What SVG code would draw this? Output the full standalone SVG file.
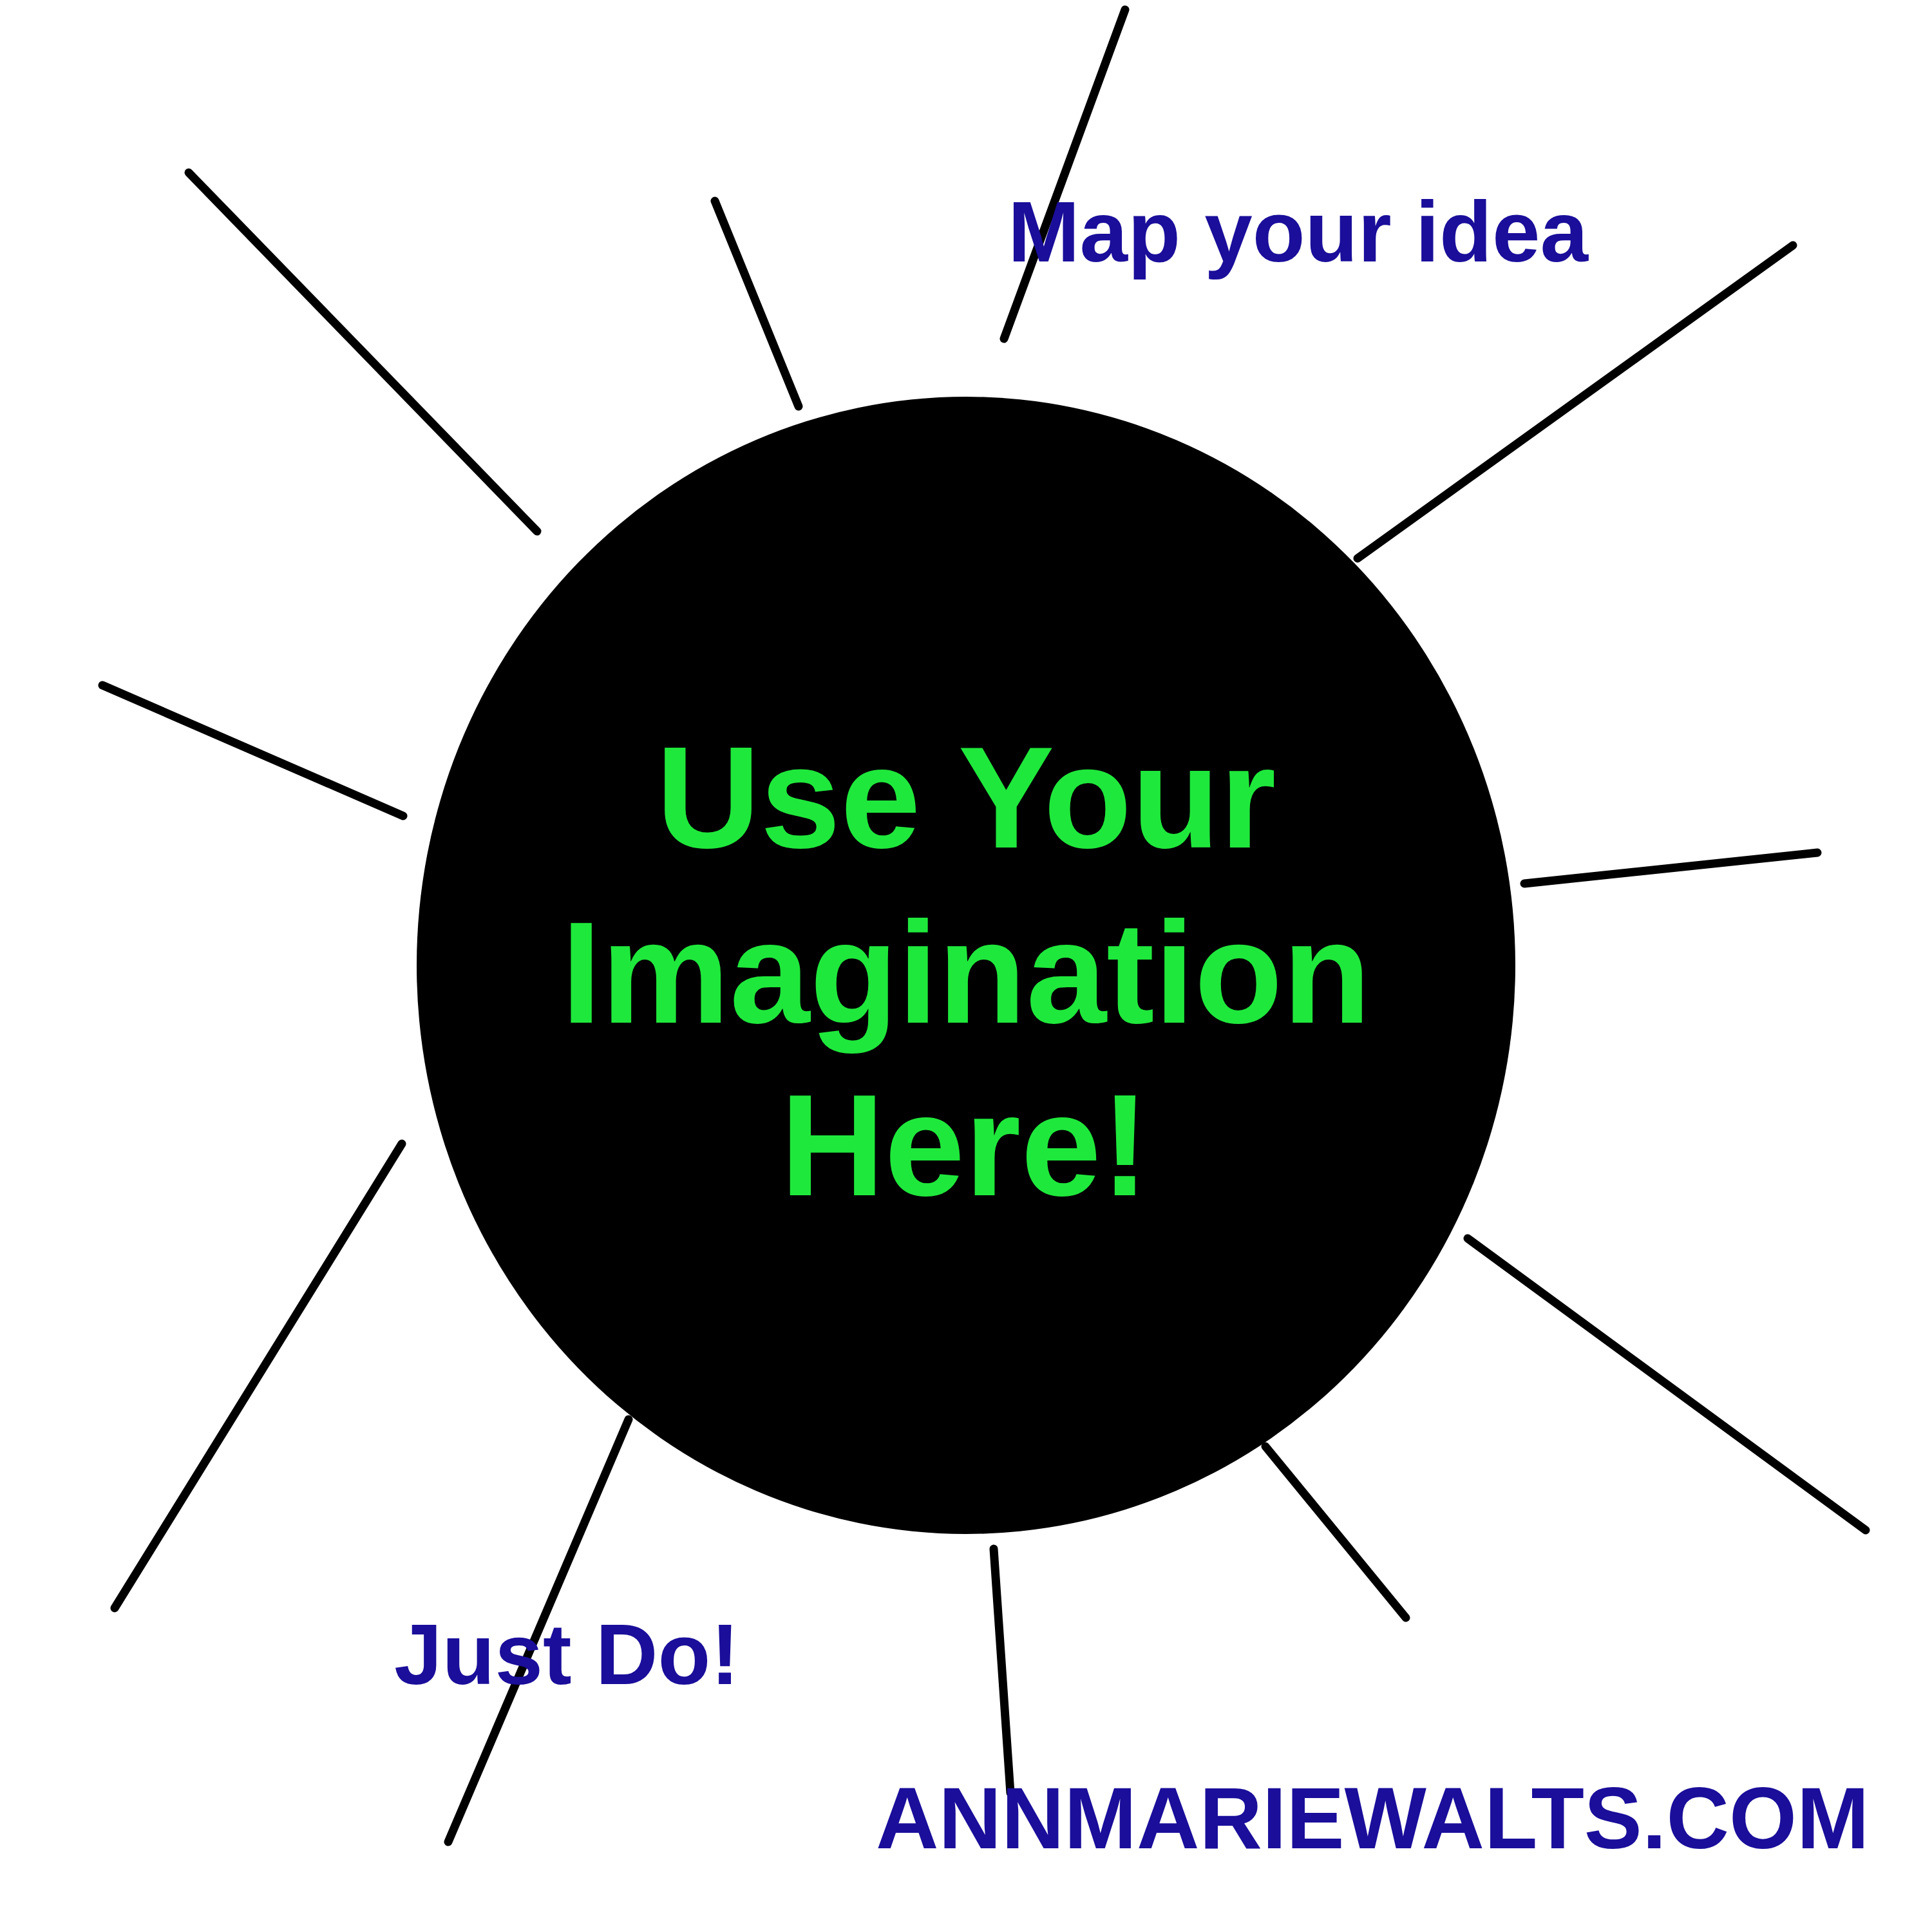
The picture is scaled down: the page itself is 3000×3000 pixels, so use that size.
<svg xmlns="http://www.w3.org/2000/svg" width="3000" height="3000" viewBox="0 0 3000 3000">
<style>
.ray{stroke:#000;stroke-width:13;stroke-linecap:round;fill:none}
.lbl{font-family:"Liberation Sans",Arial,sans-serif;font-weight:bold;fill:#1A0E9A}
.core{font-family:"Liberation Sans",Arial,sans-serif;font-weight:bold;fill:#1FE83C;text-anchor:middle;font-size:224px}
</style>
<rect width="3000" height="3000" fill="#fff"/>
<g id="center">
<ellipse cx="1500" cy="1499" rx="853" ry="883" fill="#000"/>
<text class="core" x="1500" y="1316">Use Your</text>
<text class="core" x="1500" y="1588">Imagination</text>
<text class="core" x="1498" y="1856">Here!</text>
</g>
<g id="connectors">
<line class="ray" x1="293" y1="268" x2="834" y2="825"/>
<line class="ray" x1="1110" y1="312" x2="1240" y2="631"/>
<line class="ray" x1="1747" y1="15" x2="1559" y2="526"/>
<line class="ray" x1="2784" y1="381" x2="2108" y2="867"/>
<line class="ray" x1="2822" y1="1324" x2="2367" y2="1372"/>
<line class="ray" x1="159" y1="1064" x2="626" y2="1267"/>
<line class="ray" x1="624" y1="1776" x2="178" y2="2497"/>
<line class="ray" x1="976" y1="2204" x2="696" y2="2860"/>
<line class="ray" x1="1543" y1="2405" x2="1569" y2="2784"/>
<line class="ray" x1="1965" y1="2246" x2="2183" y2="2512"/>
<line class="ray" x1="2279" y1="1923" x2="2897" y2="2376"/>
</g>
<g id="label-map"><text class="lbl" x="1565" y="406" font-size="134">Map your idea</text></g>
<g id="label-just"><text class="lbl" x="612" y="2615" font-size="134">Just Do!</text></g>
<g id="label-site"><text class="lbl" x="1360" y="2870" font-size="135">ANNMARIEWALTS.COM</text></g>
</svg>
